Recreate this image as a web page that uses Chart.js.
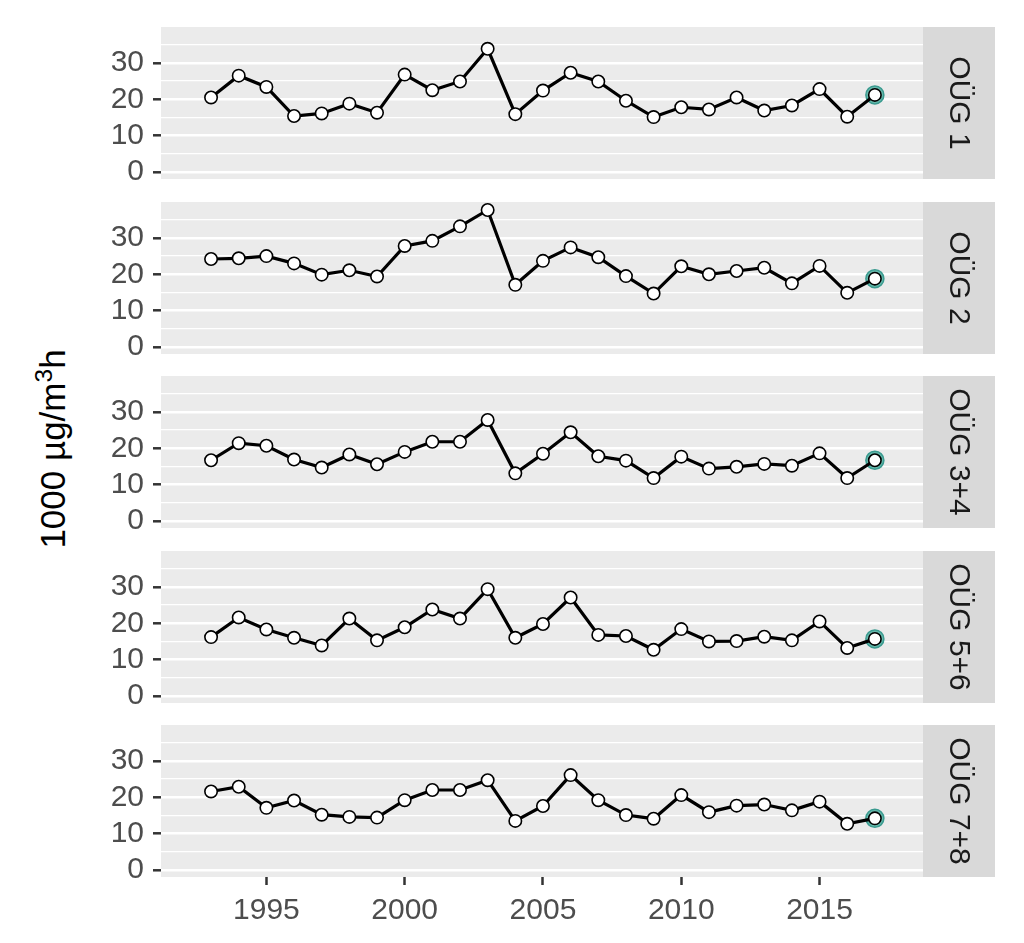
<!DOCTYPE html>
<html>
<head>
<meta charset="utf-8">
<script src="https://cdn.jsdelivr.net/npm/chart.js@4"></script>
<style>
  body { margin: 0; background: #fff; }
  #wrap { position: relative; width: 1024px; height: 943px; overflow: hidden; background: #fff; }
  #wrap canvas { position: absolute; left: 0; }
  #ytitle {
    position: absolute; left: 53px; top: 449px;
    transform: translate(-50%, -50%) rotate(-90deg);
    font: 35px "Liberation Sans", Arial, sans-serif; color: #000; white-space: nowrap;
  }
  #ytitle sup { font-size: 0.7em; vertical-align: 0.55em; line-height: 0; }
</style>
</head>
<body>
<div id="wrap">
  <div id="ytitle">1000 µg/m<sup>3</sup>h</div>
</div>
<script>
// Daten
const years = [1993, 1994, 1995, 1996, 1997, 1998, 1999, 2000, 2001, 2002, 2003, 2004, 2005,
               2006, 2007, 2008, 2009, 2010, 2011, 2012, 2013, 2014, 2015, 2016, 2017];
const oug1  = [20.5, 26.5, 23.4, 15.4, 16.1, 18.8, 16.3, 26.8, 22.5, 24.9, 33.9, 15.9, 22.4,
               27.3, 24.9, 19.6, 15.1, 17.8, 17.2, 20.5, 16.9, 18.3, 22.8, 15.2, 21.2];
const oug2  = [24.2, 24.4, 25.0, 23.0, 19.9, 21.1, 19.4, 27.8, 29.2, 33.2, 37.7, 17.1, 23.7,
               27.4, 24.7, 19.5, 14.7, 22.2, 20.0, 20.9, 21.8, 17.5, 22.3, 14.9, 18.8];
const oug34 = [16.7, 21.4, 20.7, 16.9, 14.7, 18.3, 15.6, 19.0, 21.8, 21.8, 27.8, 13.1, 18.5,
               24.4, 17.8, 16.6, 11.8, 17.7, 14.4, 14.9, 15.7, 15.2, 18.6, 11.8, 16.7];
const oug56 = [16.2, 21.6, 18.3, 16.0, 13.9, 21.3, 15.3, 18.9, 23.8, 21.3, 29.4, 16.0, 19.8,
               27.1, 16.8, 16.5, 12.7, 18.4, 15.0, 15.1, 16.3, 15.3, 20.5, 13.2, 15.7];
const oug78 = [21.6, 22.9, 17.1, 19.1, 15.2, 14.6, 14.4, 19.2, 22.0, 22.0, 24.7, 13.5, 17.6,
               26.1, 19.2, 15.1, 14.1, 20.6, 15.9, 17.7, 18.0, 16.4, 18.8, 12.7, 14.2];
const panelLabels = ['OÜG 1', 'OÜG 2', 'OÜG 3+4', 'OÜG 5+6', 'OÜG 7+8'];
const panelSeries = [oug1, oug2, oug34, oug56, oug78];
const yTicks = [0, 10, 20, 30];
const yMinor = [5, 15, 25, 35];
const xTicks = [1995, 2000, 2005, 2010, 2015];

const FONT = '"Liberation Sans", Arial, sans-serif';
const panelTops = [27, 202, 376, 551, 725];
const PAD = 30;

// Hintergrund + Streifen rechts
const facetPlugin = {
  id: 'facet',
  beforeDraw(chart, args, opts) {
    const a = chart.chartArea, c = chart.ctx;
    c.save();
    c.fillStyle = '#EBEBEB';
    c.fillRect(a.left, a.top, a.right - a.left, a.bottom - a.top);
    c.fillStyle = '#D9D9D9';
    c.fillRect(a.right, a.top, 72, a.bottom - a.top);
    c.translate(a.right + 36, (a.top + a.bottom) / 2);
    c.rotate(Math.PI / 2);
    c.fillStyle = '#1A1A1A';
    c.font = '30px ' + FONT;
    c.textAlign = 'center';
    c.textBaseline = 'middle';
    c.fillText(opts.label, 0, 1);
    c.restore();
  }
};

const wrap = document.getElementById('wrap');

panelSeries.forEach((vals, i) => {
  const last = i === panelSeries.length - 1;
  const cv = document.createElement('canvas');
  const top = panelTops[i] - PAD;
  const h = last ? 943 - top : 152 + 2 * PAD;
  cv.width = 1024; cv.height = h;
  cv.style.top = top + 'px';
  cv.style.width = '1024px'; cv.style.height = h + 'px';
  wrap.appendChild(cv);

  const pts = years.map((y, k) => ({ x: y, y: vals[k] }));
  const n = years.length - 1;
  const xH = last ? 50 : 0;

  new Chart(cv.getContext('2d'), {
    type: 'line',
    data: {
      datasets: [{
        data: pts,
        borderColor: '#000',
        borderWidth: 3.2,
        tension: 0,
        pointRadius: 6.2,
        pointBorderWidth: 1.6,
        pointBackgroundColor: '#fff',
        pointBorderColor: '#000',
        order: 0
      }, {
        data: [{ x: years[n], y: vals[n] }],
        showLine: false,
        pointRadius: 9,
        pointBorderWidth: 1.5,
        pointBackgroundColor: '#66B9AC',
        pointBorderColor: '#3A9A8F',
        order: 1
      }]
    },
    options: {
      responsive: false,
      animation: false,
      devicePixelRatio: 1,
      events: [],
      layout: { padding: { top: PAD, left: 0, right: 101, bottom: h - PAD - 152 - xH } },
      plugins: { legend: { display: false }, tooltip: { enabled: false }, facet: { label: panelLabels[i] } },
      scales: {
        x: {
          type: 'linear',
          min: 1991.19, max: 2018.74,
          afterBuildTicks: s => { s.ticks = xTicks.map(v => ({ value: v })); },
          afterFit: s => { s.height = xH; },
          border: { display: false },
          grid: {
            display: last, drawOnChartArea: false, drawTicks: true,
            tickLength: 8, tickColor: '#333', tickWidth: 2.5
          },
          ticks: {
            display: last,
            color: '#4D4D4D', font: { size: 30, family: FONT }, padding: 8,
            autoSkip: false, maxRotation: 0, callback: v => String(v)
          }
        },
        y: {
          min: -1.95, max: 39.9,
          afterBuildTicks: s => { s.ticks = yTicks.concat(yMinor).sort((a, b) => a - b).map(v => ({ value: v })); },
          afterFit: s => { s.width = 161; },
          border: { display: false },
          grid: {
            color: '#fff',
            lineWidth: ctx => (yTicks.includes(ctx.tick.value) ? 2.6 : 1.3),
            drawTicks: true,
            tickLength: 8,
            tickWidth: 2.5,
            tickColor: ctx => (yTicks.includes(ctx.tick.value) ? '#333' : 'rgba(0,0,0,0)')
          },
          ticks: {
            color: '#4D4D4D', font: { size: 30, family: FONT }, padding: 9, autoSkip: false,
            callback: v => (yTicks.includes(v) ? String(v) : '')
          }
        }
      }
    },
    plugins: [facetPlugin]
  });
});
</script>
</body>
</html>
